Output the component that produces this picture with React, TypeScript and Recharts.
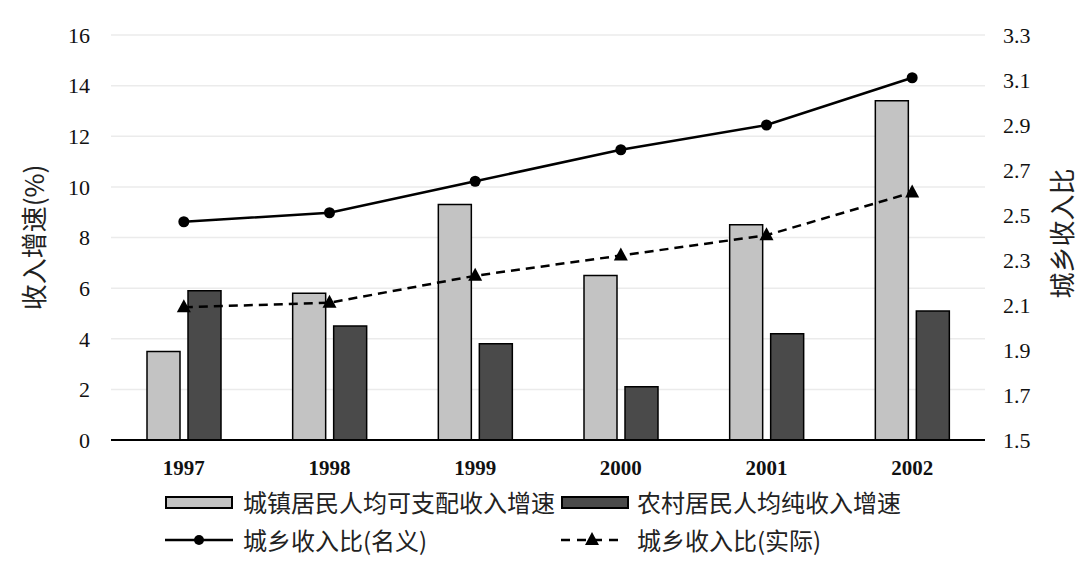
import {
  ComposedChart,
  Bar,
  Line,
  XAxis,
  YAxis,
  CartesianGrid,
  Legend,
} from 'recharts';

const years = ['1997', '1998', '1999', '2000', '2001', '2002'];
const urbanGrowth = [3.5, 5.8, 9.3, 6.5, 8.5, 13.4];
const ruralGrowth = [5.9, 4.5, 3.8, 2.1, 4.2, 5.1];
const ratioNominal = [2.47, 2.51, 2.65, 2.79, 2.9, 3.11];
const ratioReal = [2.09, 2.11, 2.23, 2.32, 2.41, 2.6];

const leftTicks = [0, 2, 4, 6, 8, 10, 12, 14, 16];
const rightTicks = [1.5, 1.7, 1.9, 2.1, 2.3, 2.5, 2.7, 2.9, 3.1, 3.3];

const seriesNames = {
  urban: '城镇居民人均可支配收入增速',
  rural: '农村居民人均纯收入增速',
  nominal: '城乡收入比(名义)',
  real: '城乡收入比(实际)',
};

const data = years.map((year, i) => ({
  year,
  urban: urbanGrowth[i],
  rural: ruralGrowth[i],
  nominal: ratioNominal[i],
  real: ratioReal[i],
}));

const serif = '"Liberation Serif", "DejaVu Serif", serif';
const cjk = '"Noto Sans CJK SC", "Noto Sans", sans-serif';

const lightFill = '#c3c3c3';
const darkFill = '#4a4a4a';

// triangle marker for the real ratio line
const TriangleDot = (props: any) => {
  const { cx, cy } = props;
  if (cx == null || cy == null) return null;
  return (
    <polygon
      points={`${cx},${cy - 8} ${cx - 7},${cy + 5} ${cx + 7},${cy + 5}`}
      fill="#000"
    />
  );
};

function ChartLegend() {
  const textStyle = {
    position: 'absolute' as const,
    fontFamily: cjk,
    fontSize: 24,
    color: '#222',
    lineHeight: '24px',
    whiteSpace: 'nowrap' as const,
  };
  return (
    <div style={{ position: 'relative', width: 1080, height: 80 }}>
      {/* row 1: bars */}
      <svg style={{ position: 'absolute', left: 165, top: 12 }} width={68} height={14}>
        <rect x={1} y={1} width={66} height={11} fill={lightFill} stroke="#000" strokeWidth={2} />
      </svg>
      <span style={{ ...textStyle, left: 243, top: 6 }}>{seriesNames.urban}</span>
      <svg style={{ position: 'absolute', left: 561, top: 12 }} width={68} height={14}>
        <rect x={1} y={1} width={66} height={11} fill={darkFill} stroke="#000" strokeWidth={2} />
      </svg>
      <span style={{ ...textStyle, left: 637, top: 6 }}>{seriesNames.rural}</span>

      {/* row 2: lines */}
      <svg style={{ position: 'absolute', left: 165, top: 46 }} width={68} height={20}>
        <line x1={0} y1={10} x2={68} y2={10} stroke="#000" strokeWidth={2.5} />
        <circle cx={34} cy={10} r={5} fill="#000" />
      </svg>
      <span style={{ ...textStyle, left: 243, top: 44 }}>{seriesNames.nominal}</span>
      <svg style={{ position: 'absolute', left: 561, top: 46 }} width={64} height={20}>
        <line x1={0} y1={10} x2={64} y2={10} stroke="#000" strokeWidth={2.5} strokeDasharray="9 7" />
        <polygon points="31,2 24,15 38,15" fill="#000" />
      </svg>
      <span style={{ ...textStyle, left: 637, top: 44 }}>{seriesNames.real}</span>
    </div>
  );
}

export default function App() {
  return (
    <div
      style={{
        position: 'absolute',
        left: 0,
        top: 0,
        width: 1080,
        height: 568,
        background: '#fff',
      }}
    >
      <ComposedChart
        width={1080}
        height={568}
        data={data}
        margin={{ top: 35, right: 0, bottom: 88, left: 0 }}
        barSize={33}
        barGap={8}
      >
        <CartesianGrid
          yAxisId="left"
          vertical={false}
          stroke="#ebebeb"
          strokeWidth={1.5}
        />
        <XAxis
          dataKey="year"
          height={40}
          axisLine={{ stroke: '#000', strokeWidth: 2 }}
          tickLine={false}
          tickMargin={14}
          tick={{ fontFamily: serif, fontSize: 21, fontWeight: 700, fill: '#111' }}
        />
        <YAxis
          yAxisId="left"
          orientation="left"
          width={111}
          domain={[0, 16]}
          ticks={leftTicks}
          axisLine={false}
          tickLine={false}
          tickMargin={15}
          tick={{ fontFamily: serif, fontSize: 22, fill: '#111' }}
          label={{
            content: ({ viewBox }: any) => {
              const x = viewBox.x + 32;
              const y = viewBox.y + viewBox.height / 2;
              return (
                <text
                  x={x}
                  y={y}
                  transform={`rotate(-90, ${x}, ${y})`}
                  textAnchor="middle"
                  dominantBaseline="central"
                  fontFamily={cjk}
                  fontSize={26}
                  fill="#222"
                >
                  收入增速(%)
                </text>
              );
            },
          }}
        />
        <YAxis
          yAxisId="right"
          orientation="right"
          width={95}
          domain={[1.5, 3.3]}
          ticks={rightTicks}
          tickFormatter={(v: number) => v.toFixed(1)}
          axisLine={false}
          tickLine={false}
          tickMargin={12}
          tick={{ fontFamily: serif, fontSize: 22, fill: '#111' }}
          label={{
            content: ({ viewBox }: any) => {
              const x = viewBox.x + 75;
              const y = viewBox.y + viewBox.height / 2 - 4;
              return (
                <text
                  x={x}
                  y={y}
                  transform={`rotate(-90, ${x}, ${y})`}
                  textAnchor="middle"
                  dominantBaseline="central"
                  fontFamily={cjk}
                  fontSize={26}
                  fill="#222"
                >
                  城乡收入比
                </text>
              );
            },
          }}
        />
        <Bar
          yAxisId="left"
          dataKey="urban"
          name={seriesNames.urban}
          fill={lightFill}
          stroke="#000"
          strokeWidth={1.5}
          isAnimationActive={false}
        />
        <Bar
          yAxisId="left"
          dataKey="rural"
          name={seriesNames.rural}
          fill={darkFill}
          stroke="#000"
          strokeWidth={1.5}
          isAnimationActive={false}
        />
        <Line
          yAxisId="right"
          type="linear"
          dataKey="nominal"
          name={seriesNames.nominal}
          stroke="#000"
          strokeWidth={2.5}
          dot={{ r: 5.5, fill: '#000', stroke: '#000', strokeWidth: 0 }}
          activeDot={false}
          isAnimationActive={false}
        />
        <Line
          yAxisId="right"
          type="linear"
          dataKey="real"
          name={seriesNames.real}
          stroke="#000"
          strokeWidth={2.5}
          strokeDasharray="9 6"
          dot={<TriangleDot />}
          activeDot={false}
          isAnimationActive={false}
        />
        <Legend
          layout="horizontal"
          verticalAlign="middle"
          align="center"
          wrapperStyle={{ left: 0, top: 484, width: 1080, height: 80 }}
          content={() => <ChartLegend />}
        />
      </ComposedChart>
    </div>
  );
}
